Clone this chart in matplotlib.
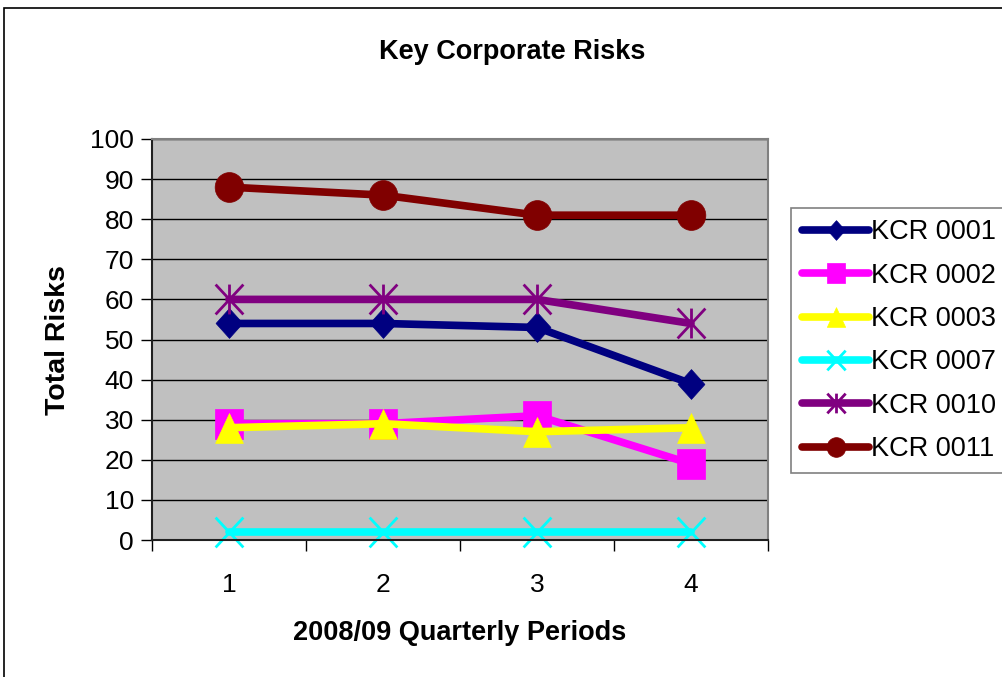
import numpy as np
import matplotlib
matplotlib.use('Agg')
import matplotlib.pyplot as plt
from matplotlib.path import Path
from matplotlib.transforms import Affine2D
from matplotlib.patches import Rectangle

plt.rcParams['font.family'] = ['Liberation Sans', 'DejaVu Sans']

# quarterly totals per key corporate risk
quarters = [1, 2, 3, 4]
kcr_0001 = [54, 54, 53, 39]
kcr_0002 = [29, 29, 31, 19]
kcr_0003 = [28, 29, 27, 28]
kcr_0007 = [2, 2, 2, 2]
kcr_0010 = [60, 60, 60, 54]
kcr_0011 = [88, 86, 81, 81]
labels = ['KCR 0001', 'KCR 0002', 'KCR 0003', 'KCR 0007', 'KCR 0010', 'KCR 0011']
y_ticks = list(range(0, 101, 10))


def tall(path, sx=0.93):
    # markers are a touch taller than wide
    return path.transformed(Affine2D().scale(sx, 1.0))


M, L = Path.MOVETO, Path.LINETO
diamond = tall(Path([(0, 1), (1, 0), (0, -1), (-1, 0), (0, 1)],
                    [M, L, L, L, Path.CLOSEPOLY]), 0.9)
square = tall(Path([(-1, -1), (1, -1), (1, 1), (-1, 1), (-1, -1)],
                   [M, L, L, L, Path.CLOSEPOLY]))
triangle = tall(Path([(0, 1), (1, -1), (-1, -1), (0, 1)],
                     [M, L, L, Path.CLOSEPOLY]))
cross = tall(Path([(-1, -1), (1, 1), (-1, 1), (1, -1)], [M, L, M, L]))
star = tall(Path([(-1, -1), (1, 1), (-1, 1), (1, -1), (0, -1), (0, 1)],
                 [M, L, M, L, M, L]))
circle = tall(Path.unit_circle(), 0.96)

series = [
    (kcr_0001, '#000080', diamond, True),
    (kcr_0002, '#FF00FF', square, True),
    (kcr_0003, '#FFFF00', triangle, True),
    (kcr_0007, '#00FFFF', cross, False),
    (kcr_0010, '#800080', star, False),
    (kcr_0011, '#800000', circle, True),
]

fig = plt.figure(figsize=(10.02, 6.77), dpi=100)
ax = fig.add_axes([152 / 1002, 1 - 540 / 677, 616 / 1002, 401 / 677])
ax.set_facecolor('#C0C0C0')

for (vals, col, mk, filled), lab in zip(series, labels):
    if filled:
        ax.plot(quarters, vals, color=col, lw=5.5, marker=mk, ms=21.5,
                mfc=col, mec=col, mew=0.5, label=lab, clip_on=False,
                solid_capstyle='round', solid_joinstyle='round')
    else:
        ax.plot(quarters, vals, color=col, lw=5.5, marker=mk, ms=21.5,
                mfc='none', mec=col, mew=2.0, label=lab, clip_on=False,
                solid_capstyle='round', solid_joinstyle='round')

ax.set_xlim(0.5, 4.5)
ax.set_ylim(0, 100)
ax.set_yticks(y_ticks)
ax.set_xticks(quarters)
ax.set_xticks([0.5, 1.5, 2.5, 3.5, 4.5], minor=True)
ax.tick_params(axis='x', which='major', length=0, pad=24, labelsize=19)
ax.tick_params(axis='x', which='minor', length=8, width=1, color='black',
               direction='out')
ax.tick_params(axis='y', length=8, width=1, color='black', direction='out',
               labelsize=19, pad=5)
ax.grid(axis='y', color='black', lw=1)
ax.set_axisbelow(True)
for s in ('top', 'right'):
    ax.spines[s].set_color('#808080')
    ax.spines[s].set_linewidth(1.5)
for s in ('left', 'bottom'):
    ax.spines[s].set_color('#202020')
    ax.spines[s].set_linewidth(1.5)

fig.text(512 / 1002, 1 - 52 / 677, 'Key Corporate Risks', ha='center',
         va='center', fontsize=19.5, fontweight='bold')
fig.text(58 / 1002, 1 - 340 / 677, 'Total Risks', ha='center', va='center',
         rotation=90, fontsize=20.5, fontweight='bold')
fig.text(460 / 1002, 1 - 633 / 677, '2008/09 Quarterly Periods',
         ha='center', va='center', fontsize=19.5, fontweight='bold')

leg = ax.legend(loc='upper left', bbox_to_anchor=(791 / 1002, 1 - 208 / 677),
                bbox_transform=fig.transFigure, fontsize=19.5,
                markerscale=0.66, handlelength=2.45, handletextpad=0.1,
                labelspacing=0.64, borderpad=0.42, borderaxespad=0,
                fancybox=False, framealpha=1, edgecolor='#808080')
leg.get_frame().set_linewidth(1.2)

# outer chart frame
fig.patches.append(Rectangle((4 / 1002, -0.1), 1.2, 1.1 - 8 / 677,
                             transform=fig.transFigure, fill=False,
                             edgecolor='black', lw=1.2))

fig.savefig('out.png', dpi=100)
